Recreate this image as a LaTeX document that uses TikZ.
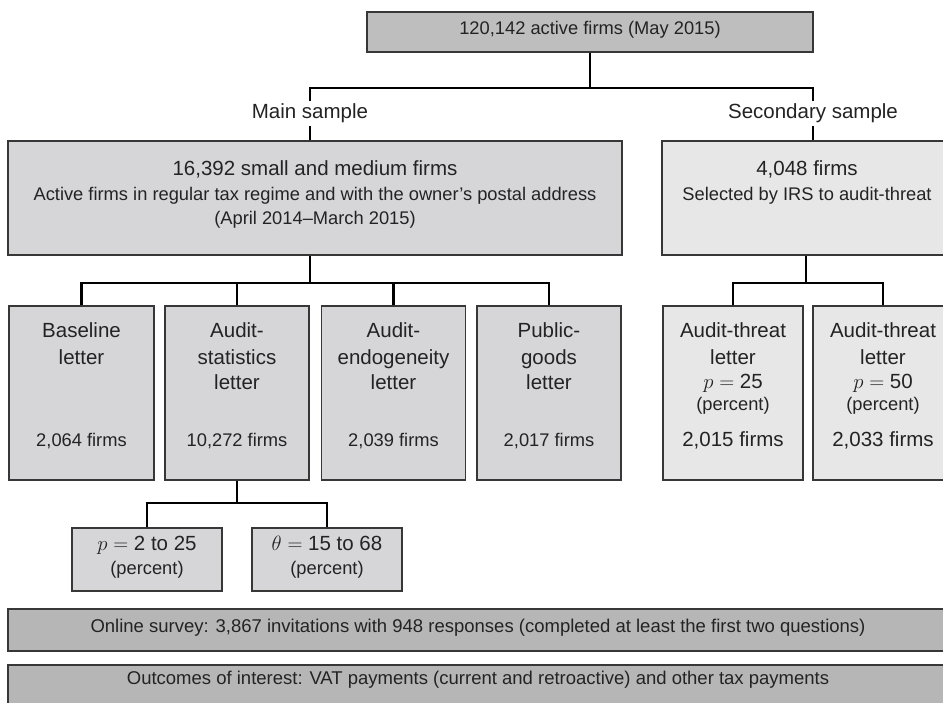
\documentclass[tikz,border=0pt]{standalone}
\usepackage{fontspec}
\setmainfont{Liberation Sans}
\definecolor{topgray}{RGB}{190,190,190}
\definecolor{maingray}{RGB}{214,214,216}
\definecolor{secgray}{RGB}{231,231,231}
\definecolor{botgray}{RGB}{182,182,182}
\definecolor{bordergray}{RGB}{55,55,55}
\definecolor{textgray}{RGB}{35,35,35}
\tikzset{
  box/.style={draw=bordergray, line width=1.2pt, rectangle, inner sep=0pt},
  conn/.style={draw=black, line width=2.2pt},
  txt/.style={text=textgray, inner sep=0pt, anchor=mid},
  big/.style={txt, font=\fontsize{20.5}{24}\selectfont},
  mid/.style={txt, font=\fontsize{18.3}{22}\selectfont},
  small/.style={txt, font=\fontsize{18.5}{22}\selectfont},
  lbl/.style={big, fill=white, inner sep=3pt},
}
\begin{document}
\begin{tikzpicture}[x=1pt,y=-1pt]
\useasboundingbox (0,0) rectangle (943,703);
\clip (0,0) rectangle (943,703);
% boxes
\node[box, fill=topgray, minimum width=446pt, minimum height=40pt] (top) at (590,32) {};
\node[box, fill=maingray, minimum width=614pt, minimum height=114pt] (main) at (315,198) {};
\node[box, fill=secgray, minimum width=290pt, minimum height=114pt] (sec) at (807,198) {};
\node[box, fill=maingray, minimum width=145pt, minimum height=174pt] (base) at (81.5,393) {};
\node[box, fill=maingray, minimum width=144pt, minimum height=174pt] (stat) at (237,393) {};
\node[box, fill=maingray, minimum width=144pt, minimum height=174pt] (endo) at (393.5,393) {};
\node[box, fill=maingray, minimum width=144pt, minimum height=174pt] (pub) at (549,393) {};
\node[box, fill=secgray, minimum width=140pt, minimum height=174pt] (at1) at (733,393) {};
\node[box, fill=secgray, minimum width=140pt, minimum height=174pt] (at2) at (883,393) {};
\node[box, fill=maingray, minimum width=150pt, minimum height=63pt] (sub1) at (147,559.5) {};
\node[box, fill=maingray, minimum width=150pt, minimum height=63pt] (sub2) at (327,559.5) {};
\node[box, fill=botgray, minimum width=944pt, minimum height=42pt] (survey) at (480,630) {};
\node[box, fill=botgray, minimum width=944pt, minimum height=42pt] (outc) at (480,686) {};
% connectors
\coordinate (jL) at (310,88);
\coordinate (jR) at (813,88);
\coordinate (mb) at (310,283);
\coordinate (sb) at (806,283);
\coordinate (ssb) at (237,503);
\draw[conn] (top.south) -- (top.south |- jL);
\draw[conn] (main.north -| jL) -- (jL) -- (jR) -- (sec.north -| jR);
\draw[conn] (main.south -| mb) -- (mb);
\draw[conn] (base.north) |- (mb) -| (pub.north);
\draw[conn] (stat.north) -- (stat.north |- mb);
\draw[conn] (endo.north) -- (endo.north |- mb);
\draw[conn] (sec.south -| sb) -- (sb);
\draw[conn] (at1.north) |- (sb) -| (at2.north);
\draw[conn] (stat.south) -- (stat.south |- ssb);
\draw[conn] (sub1.north) |- (ssb) -| (sub2.north);
% labels
\node[lbl] (mainlbl) at (310,116) {Main sample};
\node[lbl] (seclbl) at (813,116) {Secondary sample};
% texts
\node[mid] (toptxt) at (590,32) {120,142 active firms (May 2015)};
\node[big] (m1) at (315,173) {16,392 small and medium firms};
\node[mid] (m2) at (315,198) {Active firms in regular tax regime and with the owner’s postal address};
\node[mid] (m3) at (315,222) {(April 2014–March 2015)};
\node[big] (s1) at (807,173) {4,048 firms};
\node[mid] (s2) at (807,198) {Selected by IRS to audit-threat};
\node[big] (b1) at (81.5,335) {Baseline};
\node[big] (b2) at (81.5,362) {letter};
\node[mid] (b3) at (81.5,444) {2,064 firms};
\node[big] (st1) at (237,335) {Audit-};
\node[big] (st2) at (237,362) {statistics};
\node[big] (st3) at (237,387) {letter};
\node[mid] (st4) at (237,444) {10,272 firms};
\node[big] (e1) at (393.5,335) {Audit-};
\node[big] (e2) at (393.5,362) {endogeneity};
\node[big] (e3) at (393.5,387) {letter};
\node[mid] (e4) at (393.5,444) {2,039 firms};
\node[big] (p1) at (549,335) {Public-};
\node[big] (p2) at (549,362) {goods};
\node[big] (p3) at (549,387) {letter};
\node[mid] (p4) at (549,444) {2,017 firms};
\node[big] (a1) at (733,335) {Audit-threat};
\node[big] (a2) at (733,362) {letter};
\node[big] (a3) at (733,386) {$p =$ 25};
\node[mid] (a4) at (733,408) {(percent)};
\node[big] (a5) at (733,444) {2,015 firms};
\node[big] (c1) at (883,335) {Audit-threat};
\node[big] (c2) at (883,362) {letter};
\node[big] (c3) at (883,386) {$p =$ 50};
\node[mid] (c4) at (883,408) {(percent)};
\node[big] (c5) at (883,444) {2,033 firms};
\node[big] (u1) at (147,548) {$p =$ 2 to 25};
\node[mid] (u2) at (147,572) {(percent)};
\node[big] (v1) at (327,548) {$\theta =$ 15 to 68};
\node[mid] (v2) at (327,572) {(percent)};
\node[small] (svt) at (478,630) {Online survey: 3,867 invitations with 948 responses (completed at least the first two questions)};
\node[small] (out) at (478,682) {Outcomes of interest: VAT payments (current and retroactive) and other tax payments};
\end{tikzpicture}
\end{document}
